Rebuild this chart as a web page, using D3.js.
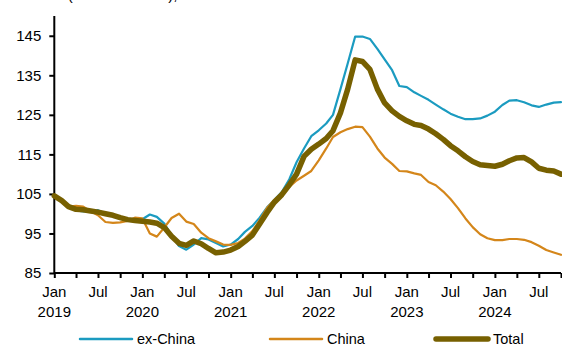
<!DOCTYPE html>
<html><head><meta charset="utf-8">
<script src="https://cdn.jsdelivr.net/npm/d3@7"></script>
<style>
html,body{margin:0;padding:0;background:#fff;}
svg{display:block;font-family:"Liberation Sans",Arial,sans-serif;}
</style></head>
<body><svg id="c" width="562" height="347"></svg>
<script>
const startYear = 2019, startMonth = 0; // Jan 2019, monthly through Oct 2024
const exChina = [104.2,103.0,101.7,100.8,100.6,100.5,100.9,100.0,99.4,99.0,98.6,98.3,
  98.6,99.8,99.2,97.5,94.5,91.8,90.9,92.2,93.8,93.5,92.6,91.7,
  92.2,93.6,95.4,96.9,99.0,101.6,103.5,105.5,108.7,113.0,116.5,119.6,
  121.1,122.8,125.0,131.5,138.0,144.8,144.8,144.2,141.7,139.0,136.3,132.3,
  132.0,130.7,129.8,128.8,127.6,126.4,125.3,124.5,123.9,123.9,124.1,124.8,
  125.8,127.5,128.6,128.7,128.2,127.4,127.0,127.6,128.1,128.2];
const china = [104.3,103.2,101.8,102.0,101.8,100.6,99.6,97.9,97.7,97.8,98.2,99.0,
  98.8,95.0,94.2,96.5,98.9,100.0,98.0,97.4,95.2,93.8,93.0,92.2,
  92.1,92.6,93.7,95.6,98.3,101.5,103.5,105.2,106.8,108.4,109.6,110.8,
  113.5,116.5,119.4,120.6,121.4,122.0,121.9,119.5,116.5,114.2,112.6,110.8,
  110.7,110.2,109.8,108.0,107.2,105.6,103.7,101.4,98.8,96.6,94.8,93.8,
  93.3,93.3,93.6,93.6,93.4,92.8,91.9,90.8,90.2,89.6];
const total = [104.5,103.3,101.8,101.1,101.0,100.7,100.4,100.0,99.6,99.0,98.5,98.3,
  98.1,97.9,97.6,96.5,94.3,92.5,92.0,93.1,92.4,91.2,90.1,90.3,
  90.8,91.7,93.0,94.6,97.4,100.3,102.9,104.8,107.3,110.0,114.5,116.3,
  117.6,119.0,121.0,125.5,131.5,138.9,138.5,136.5,131.5,128.0,126.0,124.6,
  123.5,122.6,122.3,121.4,120.2,118.8,117.2,115.9,114.4,113.2,112.4,112.2,
  112.0,112.5,113.4,114.1,114.2,113.1,111.5,111.0,110.8,110.0];
const seriesNames = ["ex-China","China","Total"];
const seriesColors = ["#1b9bc0","#d4861a","#776000"];
const seriesWidths = [2.2,2.2,5.5];
const yTicks = [85,95,105,115,125,135,145];
const titleText = "Index (Jan 2019=100),";

const dates = exChina.map((_,i)=>new Date(Date.UTC(startYear, startMonth+i, 1)));
const svg = d3.select("#c");
const x = d3.scaleUtc().domain([dates[0], dates[dates.length-1]]).range([54.3, 561]);
const y = d3.scaleLinear().domain([85,150]).range([273,16]);

svg.append("text").attr("x",27).attr("y",0).attr("font-size",15).attr("fill","#000").text(titleText);

// axes
const xTickVals = d3.utcMonth.every(3).range(dates[0], new Date(Date.UTC(2024,10,1)));
const gx = svg.append("g").attr("transform","translate(0,273)")
  .call(d3.axisBottom(x).tickValues(xTickVals).tickSize(5).tickSizeOuter(0).tickFormat(()=>""));
gx.select(".domain").attr("stroke","#000").attr("stroke-width",2).attr("d","M54.3,0H561");
gx.selectAll(".tick line").attr("stroke","#000").attr("stroke-width",2);
xTickVals.forEach(d=>{
  const m = d.getUTCMonth();
  if (m===0 || m===6) {
    svg.append("text").attr("x",x(d)).attr("y",297).attr("text-anchor","middle")
      .attr("font-size",15).attr("fill","#000").text(m===0?"Jan":"Jul");
    if (m===0) svg.append("text").attr("x",x(d)).attr("y",317).attr("text-anchor","middle")
      .attr("font-size",15).attr("fill","#000").text(d.getUTCFullYear());
  }
});

const gy = svg.append("g").attr("transform","translate(54.3,0)")
  .call(d3.axisLeft(y).tickValues(yTicks).tickSize(5).tickSizeOuter(0).tickPadding(8));
gy.select(".domain").attr("stroke","#000").attr("stroke-width",2).attr("d","M0,16V274");
gy.selectAll(".tick line").attr("stroke","#000").attr("stroke-width",2);
gy.selectAll(".tick text").attr("font-size",15).attr("font-family","Liberation Sans, Arial, sans-serif").attr("fill","#000");

// lines
const data = [exChina, china, total];
const line = d3.line().x((d,i)=>x(dates[i])).y(d=>y(d)).curve(d3.curveLinear);
data.forEach((s,k)=>{
  svg.append("path").attr("d", line(s)).attr("fill","none")
    .attr("stroke",seriesColors[k]).attr("stroke-width",seriesWidths[k])
    .attr("stroke-linejoin","round").attr("stroke-linecap","round");
});

// legend
const legX = [80, 270, 436];
seriesNames.forEach((n,k)=>{
  svg.append("line").attr("x1",legX[k]).attr("x2",legX[k]+52).attr("y1",339).attr("y2",339)
    .attr("stroke",seriesColors[k]).attr("stroke-width",k===2?5.5:2.5).attr("stroke-linecap","round");
  svg.append("text").attr("x",legX[k]+57).attr("y",343.5).attr("font-size",14.5).attr("fill","#000").text(n);
});
</script></body></html>
